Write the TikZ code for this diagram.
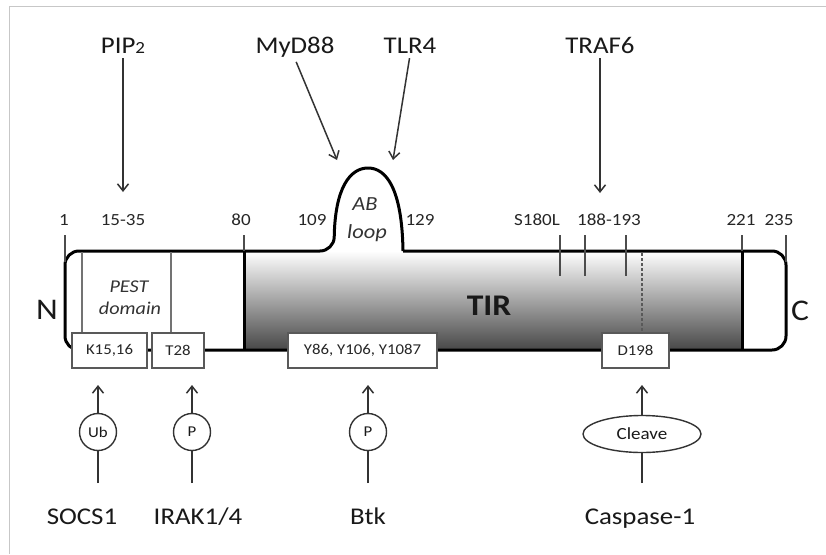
\documentclass[tikz,border=0pt]{standalone}
\usepackage{fontspec}
\setmainfont{Carlito}[FakeStretch=1.12]
\usetikzlibrary{arrows.meta,shapes.geometric}
\begin{document}
\begin{tikzpicture}[x=1pt,y=-1pt,
  lbl/.style={font=\fontsize{24}{24}\selectfont, text=black!90, inner sep=2pt, anchor=base},
  num/.style={font=\fontsize{17}{17}\selectfont, text=black!85, inner sep=0pt, anchor=base},
  inlbl/.style={font=\fontsize{18}{18}\selectfont\itshape, text=black!80, inner sep=0pt, anchor=base},
  arr/.style={draw=black!80, line width=1.5pt, shorten <=3pt, -{Straight Barb[length=7pt,width=11pt,line width=1.5pt]}},
  conn/.style={draw=black!80, line width=1.5pt},
  outline/.style={draw=black, line width=3pt, line join=round},
  thinln/.style={draw=black!70, line width=1.3pt},
  site/.style={draw=black!65, fill=white, line width=1.6pt, minimum height=35pt, inner sep=0pt, font=\fontsize{15}{15}\selectfont, text=black!85},
  modc/.style={circle, draw=black!80, fill=white, line width=1.4pt, minimum size=37pt, inner sep=0pt, font=\fontsize{15}{15}\selectfont, text=black!90},
]
\useasboundingbox (0,0) rectangle (826,554);
\fill[white] (0,0) rectangle (826,554);
% frame
\draw[draw=black!22, line width=1.6pt] (9.5,554) -- (9.5,6.5) -- (826,6.5);

% TIR gradient
\shade[top color=white, bottom color=black!72] (244,251) rectangle (742,350);

% protein outline with AB loop
\draw[outline] (403,251) [rounded corners=14pt] -- (786,251) -- (786,350) -- (65,350) -- (65,251) -- (334,251)
  [sharp corners] .. controls (335,188) and (350,168) .. (368,168) .. controls (386,168) and (402,188) .. (403,251);

% domain borders
\draw[draw=black, line width=3pt] (244,251) -- (244,350);
\draw[draw=black, line width=3pt] (742,251) -- (742,350);

% ticks above bar
\draw[thinln] (65,235) -- (65,262);
\draw[thinln] (244,235) -- (244,251);
\draw[thinln] (742,235) -- (742,251);
\draw[thinln] (786,235) -- (786,262);
\draw[thinln] (560,235) -- (560,276);
\draw[thinln] (585,235) -- (585,276);
\draw[thinln] (626,235) -- (626,276);

% PEST domain lines
\draw[thinln, draw=black!55] (82,252) -- (82,333);
\draw[thinln, draw=black!55] (171,252) -- (171,333);

% cleavage dotted line
\draw[draw=black!65, line width=1.2pt, dash pattern=on 3pt off 2pt] (642,253) -- (642,333);

% site boxes
\node[site, minimum width=75pt] (k15) at (109.5,350.5) {K15,16};
\node[site, minimum width=52pt] (t28) at (178,350.5) {T28};
\node[site, minimum width=149pt] (y86) at (362.5,350.5) {Y86, Y106, Y1087};
\node[site, minimum width=67pt] (d198) at (635.5,350.5) {D198};

% position numbers
\node[num] (n1) at (64,225) {1};
\node[num] (n1535) at (123,225) {15-35};
\node[num] (n80) at (241,225) {80};
\node[num] (n109) at (312,225) {109};
\node[num] (n129) at (420,225) {129};
\node[num] (n180) at (537,225) {S180L};
\node[num] (n188) at (609,225) {188-193};
\node[num] (n221) at (741,225) {221};
\node[num] (n235) at (779,225) {235};

% inner labels
\node[inlbl] (pest) at (129,292) {PEST};
\node[inlbl] (dom) at (130,314) {domain};
\node[inlbl, font=\fontsize{20}{20}\selectfont\itshape] (ab) at (365,210) {AB};
\node[inlbl, font=\fontsize{20}{20}\selectfont\itshape] (loop) at (367,238) {loop};
\node[font=\fontsize{30}{30}\selectfont\bfseries, text=black!90, inner sep=0pt, anchor=base] (tir) at (489,315) {TIR};
\node[font=\fontsize{30}{30}\selectfont, text=black!90, inner sep=0pt, anchor=base] (nterm) at (47,319) {N};
\node[font=\fontsize{30}{30}\selectfont, text=black!90, inner sep=0pt, anchor=base] (cterm) at (800,320) {C};

% top interactors
\node[lbl] (pip) at (123,53) {PIP{\fontsize{17}{17}\selectfont 2}};
\node[lbl] (myd) at (295,53) {MyD88};
\node[lbl] (tlr) at (410,53) {TLR4};
\node[lbl] (traf) at (600,53) {TRAF6};
\coordinate (pipT) at (123,192);
\coordinate (mydT) at (337,160);
\coordinate (tlrT) at (393,160);
\coordinate (trafT) at (600,193);
\draw[arr] (pip.south) -- (pipT);
\draw[arr] (myd.south) -- (mydT);
\draw[arr] (tlr.south) -- (tlrT);
\draw[arr] (traf.south) -- (trafT);

% bottom interactors
\node[modc] (ub) at (98,432) {Ub};
\node[modc] (p1) at (192,432) {P};
\node[modc] (p2) at (368,432) {P};
\node[ellipse, draw=black!80, fill=white, line width=1.4pt, minimum width=118pt, minimum height=37pt, inner sep=0pt, font=\fontsize{17}{17}\selectfont, text=black!90] (clv) at (642,434) {Cleave};

\coordinate (ubB) at (98,483);  \coordinate (ubT) at (98,385);
\coordinate (p1B) at (192,483); \coordinate (p1T) at (192,385);
\coordinate (p2B) at (368,483); \coordinate (p2T) at (368,385);
\coordinate (clB) at (642,483); \coordinate (clT) at (642,385);
\draw[conn] (ubB) -- (ub);  \draw[arr, shorten <=0pt] (ub) -- (ubT);
\draw[conn] (p1B) -- (p1);  \draw[arr, shorten <=0pt] (p1) -- (p1T);
\draw[conn] (p2B) -- (p2);  \draw[arr, shorten <=0pt] (p2) -- (p2T);
\draw[conn] (clB) -- (clv); \draw[arr, shorten <=0pt] (clv) -- (clT);

\node[lbl] (socs) at (82,524) {SOCS1};
\node[lbl] (irak) at (198,524) {IRAK1/4};
\node[lbl] (btk) at (368,524) {Btk};
\node[lbl] (casp) at (640,524) {Caspase-1};
\end{tikzpicture}
\end{document}
